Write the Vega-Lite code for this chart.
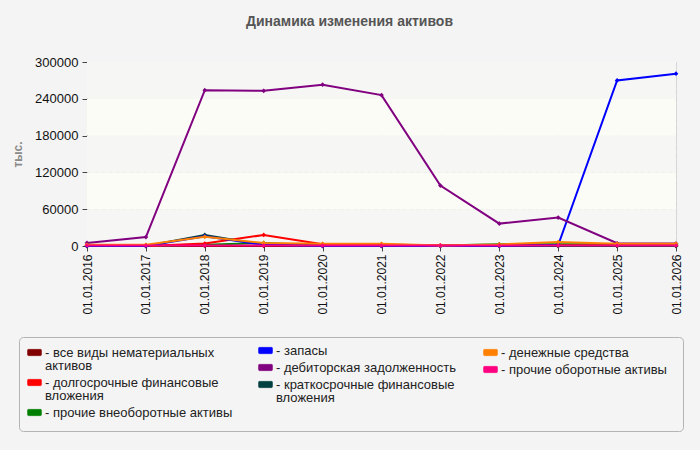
{
  "$schema": "https://vega.github.io/schema/vega-lite/v6.json",
  "autosize": {"type": "none"},
  "width": 589,
  "height": 184,
  "padding": {"left": 87, "top": 62, "right": 24, "bottom": 204},
  "background": "#f4f4f4",
  "title": {
    "text": "Динамика изменения активов",
    "font": "Liberation Sans",
    "fontSize": 14,
    "fontWeight": "bold",
    "color": "#555555",
    "anchor": "middle",
    "frame": "group",
    "dx": -32,
    "offset": 27
  },
  "config": {
    "font": "Liberation Sans",
    "view": {"stroke": "#d9d9d9", "strokeWidth": 1},
    "axis": {
      "labelFont": "Liberation Sans",
      "labelColor": "#111111",
      "domainColor": "#444444",
      "tickColor": "#444444",
      "tickSize": 5,
      "gridColor": "#d4d4d4",
      "gridDash": [4, 3],
      "gridWidth": 1
    },
    "axisX": {"labelFontSize": 12, "labelPadding": 3},
    "axisY": {
      "labelFontSize": 13,
      "labelPadding": 4,
      "titleFontSize": 12,
      "titleColor": "#8a8a8a",
      "titleFontWeight": "bold",
      "titlePadding": 10
    },
    "legend": {
      "orient": "none",
      "direction": "vertical",
      "rowPadding": 2,
      "labelFont": "Liberation Sans",
      "labelFontSize": 13,
      "labelColor": "#222222",
      "labelLimit": 400,
      "labelOffset": 3,
      "symbolType": "M-0.85,-0.45H0.85Q1,-0.45 1,-0.3V0.3Q1,0.45 0.85,0.45H-0.85Q-1,0.45 -1,0.3V-0.3Q-1,-0.45 -0.85,-0.45Z",
      "symbolSize": 196
    }
  },
  "resolve": {"scale": {"color": "independent"}, "legend": {"color": "independent"}},
  "datasets": {
    "bands": [
      {"lo": 0, "hi": 60000, "zone": "hatched"},
      {"lo": 60000, "hi": 120000, "zone": "plain"},
      {"lo": 120000, "hi": 180000, "zone": "hatched"},
      {"lo": 180000, "hi": 240000, "zone": "plain"},
      {"lo": 240000, "hi": 300000, "zone": "hatched"}
    ],
    "assets": [
      {"d": "01.01.2016", "s": "все виды нематериальных активов", "v": 0},
      {"d": "01.01.2017", "s": "все виды нематериальных активов", "v": 0},
      {"d": "01.01.2018", "s": "все виды нематериальных активов", "v": 0},
      {"d": "01.01.2019", "s": "все виды нематериальных активов", "v": 0},
      {"d": "01.01.2020", "s": "все виды нематериальных активов", "v": 0},
      {"d": "01.01.2021", "s": "все виды нематериальных активов", "v": 0},
      {"d": "01.01.2022", "s": "все виды нематериальных активов", "v": 0},
      {"d": "01.01.2023", "s": "все виды нематериальных активов", "v": 0},
      {"d": "01.01.2024", "s": "все виды нематериальных активов", "v": 0},
      {"d": "01.01.2025", "s": "все виды нематериальных активов", "v": 0},
      {"d": "01.01.2026", "s": "все виды нематериальных активов", "v": 0},

      {"d": "01.01.2016", "s": "краткосрочные финансовые вложения", "v": 0},
      {"d": "01.01.2017", "s": "краткосрочные финансовые вложения", "v": 0},
      {"d": "01.01.2018", "s": "краткосрочные финансовые вложения", "v": 18000},
      {"d": "01.01.2019", "s": "краткосрочные финансовые вложения", "v": 2000},
      {"d": "01.01.2020", "s": "краткосрочные финансовые вложения", "v": 0},
      {"d": "01.01.2021", "s": "краткосрочные финансовые вложения", "v": 0},
      {"d": "01.01.2022", "s": "краткосрочные финансовые вложения", "v": 0},
      {"d": "01.01.2023", "s": "краткосрочные финансовые вложения", "v": 0},
      {"d": "01.01.2024", "s": "краткосрочные финансовые вложения", "v": 0},
      {"d": "01.01.2025", "s": "краткосрочные финансовые вложения", "v": 0},
      {"d": "01.01.2026", "s": "краткосрочные финансовые вложения", "v": 0},

      {"d": "01.01.2016", "s": "прочие внеоборотные активы", "v": 0},
      {"d": "01.01.2017", "s": "прочие внеоборотные активы", "v": 0},
      {"d": "01.01.2018", "s": "прочие внеоборотные активы", "v": 2000},
      {"d": "01.01.2019", "s": "прочие внеоборотные активы", "v": 5000},
      {"d": "01.01.2020", "s": "прочие внеоборотные активы", "v": 1000},
      {"d": "01.01.2021", "s": "прочие внеоборотные активы", "v": 1000},
      {"d": "01.01.2022", "s": "прочие внеоборотные активы", "v": 1000},
      {"d": "01.01.2023", "s": "прочие внеоборотные активы", "v": 3000},
      {"d": "01.01.2024", "s": "прочие внеоборотные активы", "v": 3000},
      {"d": "01.01.2025", "s": "прочие внеоборотные активы", "v": 3000},
      {"d": "01.01.2026", "s": "прочие внеоборотные активы", "v": 3000},

      {"d": "01.01.2016", "s": "долгосрочные финансовые вложения", "v": 0},
      {"d": "01.01.2017", "s": "долгосрочные финансовые вложения", "v": 0},
      {"d": "01.01.2018", "s": "долгосрочные финансовые вложения", "v": 4000},
      {"d": "01.01.2019", "s": "долгосрочные финансовые вложения", "v": 18000},
      {"d": "01.01.2020", "s": "долгосрочные финансовые вложения", "v": 3000},
      {"d": "01.01.2021", "s": "долгосрочные финансовые вложения", "v": 2500},
      {"d": "01.01.2022", "s": "долгосрочные финансовые вложения", "v": 1000},
      {"d": "01.01.2023", "s": "долгосрочные финансовые вложения", "v": 1000},
      {"d": "01.01.2024", "s": "долгосрочные финансовые вложения", "v": 1000},
      {"d": "01.01.2025", "s": "долгосрочные финансовые вложения", "v": 1000},
      {"d": "01.01.2026", "s": "долгосрочные финансовые вложения", "v": 1000},

      {"d": "01.01.2016", "s": "запасы", "v": 0},
      {"d": "01.01.2017", "s": "запасы", "v": 0},
      {"d": "01.01.2018", "s": "запасы", "v": 16000},
      {"d": "01.01.2019", "s": "запасы", "v": 2000},
      {"d": "01.01.2020", "s": "запасы", "v": 0},
      {"d": "01.01.2021", "s": "запасы", "v": 0},
      {"d": "01.01.2022", "s": "запасы", "v": 0},
      {"d": "01.01.2023", "s": "запасы", "v": 0},
      {"d": "01.01.2024", "s": "запасы", "v": 1500},
      {"d": "01.01.2025", "s": "запасы", "v": 270000},
      {"d": "01.01.2026", "s": "запасы", "v": 281000},

      {"d": "01.01.2016", "s": "дебиторская задолженность", "v": 5000},
      {"d": "01.01.2017", "s": "дебиторская задолженность", "v": 14500},
      {"d": "01.01.2018", "s": "дебиторская задолженность", "v": 254000},
      {"d": "01.01.2019", "s": "дебиторская задолженность", "v": 253000},
      {"d": "01.01.2020", "s": "дебиторская задолженность", "v": 263000},
      {"d": "01.01.2021", "s": "дебиторская задолженность", "v": 246000},
      {"d": "01.01.2022", "s": "дебиторская задолженность", "v": 98500},
      {"d": "01.01.2023", "s": "дебиторская задолженность", "v": 36500},
      {"d": "01.01.2024", "s": "дебиторская задолженность", "v": 46300},
      {"d": "01.01.2025", "s": "дебиторская задолженность", "v": 4500},
      {"d": "01.01.2026", "s": "дебиторская задолженность", "v": 4000},

      {"d": "01.01.2016", "s": "денежные средства", "v": 2000},
      {"d": "01.01.2017", "s": "денежные средства", "v": 2000},
      {"d": "01.01.2018", "s": "денежные средства", "v": 15000},
      {"d": "01.01.2019", "s": "денежные средства", "v": 5000},
      {"d": "01.01.2020", "s": "денежные средства", "v": 3500},
      {"d": "01.01.2021", "s": "денежные средства", "v": 3500},
      {"d": "01.01.2022", "s": "денежные средства", "v": 1000},
      {"d": "01.01.2023", "s": "денежные средства", "v": 2500},
      {"d": "01.01.2024", "s": "денежные средства", "v": 6500},
      {"d": "01.01.2025", "s": "денежные средства", "v": 3500},
      {"d": "01.01.2026", "s": "денежные средства", "v": 3500},

      {"d": "01.01.2016", "s": "прочие оборотные активы", "v": 800},
      {"d": "01.01.2017", "s": "прочие оборотные активы", "v": 800},
      {"d": "01.01.2018", "s": "прочие оборотные активы", "v": 800},
      {"d": "01.01.2019", "s": "прочие оборотные активы", "v": 800},
      {"d": "01.01.2020", "s": "прочие оборотные активы", "v": 800},
      {"d": "01.01.2021", "s": "прочие оборотные активы", "v": 800},
      {"d": "01.01.2022", "s": "прочие оборотные активы", "v": 800},
      {"d": "01.01.2023", "s": "прочие оборотные активы", "v": 800},
      {"d": "01.01.2024", "s": "прочие оборотные активы", "v": 800},
      {"d": "01.01.2025", "s": "прочие оборотные активы", "v": 800},
      {"d": "01.01.2026", "s": "прочие оборотные активы", "v": 800}
    ]
  },
  "layer": [
    {
      "data": {"name": "bands"},
      "mark": {"type": "rect"},
      "encoding": {
        "y": {
          "field": "lo",
          "type": "quantitative",
          "scale": {"domain": [0, 300000], "nice": false},
          "axis": {"title": "тыс.", "values": [0, 60000, 120000, 180000, 240000, 300000], "format": "d"}
        },
        "y2": {"field": "hi"},
        "fill": {
          "field": "zone",
          "type": "nominal",
          "scale": {"domain": ["hatched", "plain"], "range": ["#f6f6f4", "#fcfcf6"]},
          "legend": null
        }
      }
    },
    {
      "data": {"name": "assets"},
      "transform": [
        {"filter": {"field": "s", "oneOf": ["все виды нематериальных активов", "долгосрочные финансовые вложения", "прочие внеоборотные активы"]}}
      ],
      "mark": {"type": "line", "strokeWidth": 2, "point": {"shape": "diamond", "size": 22, "filled": true}},
      "encoding": {
        "x": {
          "field": "d",
          "type": "ordinal",
          "scale": {"type": "point", "padding": 0},
          "axis": {"title": null, "labelAngle": -90, "grid": true}
        },
        "y": {
          "field": "v",
          "type": "quantitative",
          "axis": {"title": "тыс.", "values": [0, 60000, 120000, 180000, 240000, 300000], "format": "d"}
        },
        "color": {
          "field": "s",
          "type": "nominal",
          "scale": {
            "domain": ["все виды нематериальных активов", "долгосрочные финансовые вложения", "прочие внеоборотные активы"],
            "range": ["#800000", "#ff0000", "#008000"]
          },
          "legend": {
            "legendX": -68,
            "legendY": 275,
            "title": " ",
            "titleOrient": "right",
            "titleAnchor": "start",
            "titleBaseline": "top",
            "titleFontSize": 79,
            "titlePadding": 443,
            "padding": 8,
            "strokeColor": "#b4b4b4",
            "cornerRadius": 4,
            "labelExpr": "datum.label == 'все виды нематериальных активов' ? ['- все виды нематериальных', '\u00a0\u00a0\u00a0активов'] : datum.label == 'долгосрочные финансовые вложения' ? ['- долгосрочные финансовые', '\u00a0\u00a0\u00a0вложения'] : '- ' + datum.label",
            "encode": {
              "symbols": {"update": {"fill": {"scale": "layer_1_color", "field": "value"}, "stroke": {"value": "#777777"}, "strokeWidth": {"value": 0.5}}},
              "labels": {"update": {"lineHeight": {"value": 13}}}
            }
          }
        }
      }
    },
    {
      "data": {"name": "assets"},
      "transform": [
        {"filter": {"field": "s", "oneOf": ["запасы", "дебиторская задолженность", "краткосрочные финансовые вложения"]}}
      ],
      "mark": {"type": "line", "strokeWidth": 2, "point": {"shape": "diamond", "size": 22, "filled": true}},
      "encoding": {
        "x": {
          "field": "d",
          "type": "ordinal",
          "scale": {"type": "point", "padding": 0},
          "axis": {"title": null, "labelAngle": -90, "grid": true}
        },
        "y": {
          "field": "v",
          "type": "quantitative",
          "axis": {"title": "тыс.", "values": [0, 60000, 120000, 180000, 240000, 300000], "format": "d"}
        },
        "color": {
          "field": "s",
          "type": "nominal",
          "scale": {
            "domain": ["запасы", "дебиторская задолженность", "краткосрочные финансовые вложения"],
            "range": ["#0000ff", "#800080", "#004040"]
          },
          "legend": {
            "legendX": 171,
            "legendY": 281,
            "title": null,
            "padding": 0,
            "labelExpr": "datum.label == 'краткосрочные финансовые вложения' ? ['- краткосрочные финансовые', '\u00a0\u00a0\u00a0вложения'] : '- ' + datum.label",
            "encode": {
              "symbols": {"update": {"fill": {"scale": "layer_2_color", "field": "value"}, "stroke": {"value": "#777777"}, "strokeWidth": {"value": 0.5}}},
              "labels": {"update": {"lineHeight": {"value": 13}}}
            }
          }
        }
      }
    },
    {
      "data": {"name": "assets"},
      "transform": [
        {"filter": {"field": "s", "oneOf": ["денежные средства", "прочие оборотные активы"]}}
      ],
      "mark": {"type": "line", "strokeWidth": 2, "point": {"shape": "diamond", "size": 22, "filled": true}},
      "encoding": {
        "x": {
          "field": "d",
          "type": "ordinal",
          "scale": {"type": "point", "padding": 0},
          "axis": {"title": null, "labelAngle": -90, "grid": true}
        },
        "y": {
          "field": "v",
          "type": "quantitative",
          "axis": {"title": "тыс.", "values": [0, 60000, 120000, 180000, 240000, 300000], "format": "d"}
        },
        "color": {
          "field": "s",
          "type": "nominal",
          "scale": {
            "domain": ["денежные средства", "прочие оборотные активы"],
            "range": ["#ff8000", "#ff0080"]
          },
          "legend": {
            "legendX": 396,
            "legendY": 283,
            "title": null,
            "padding": 0,
            "labelExpr": "'- ' + datum.label",
            "encode": {
              "symbols": {"update": {"fill": {"scale": "layer_3_color", "field": "value"}, "stroke": {"value": "#777777"}, "strokeWidth": {"value": 0.5}}},
              "labels": {"update": {"lineHeight": {"value": 13}}}
            }
          }
        }
      }
    }
  ]
}
